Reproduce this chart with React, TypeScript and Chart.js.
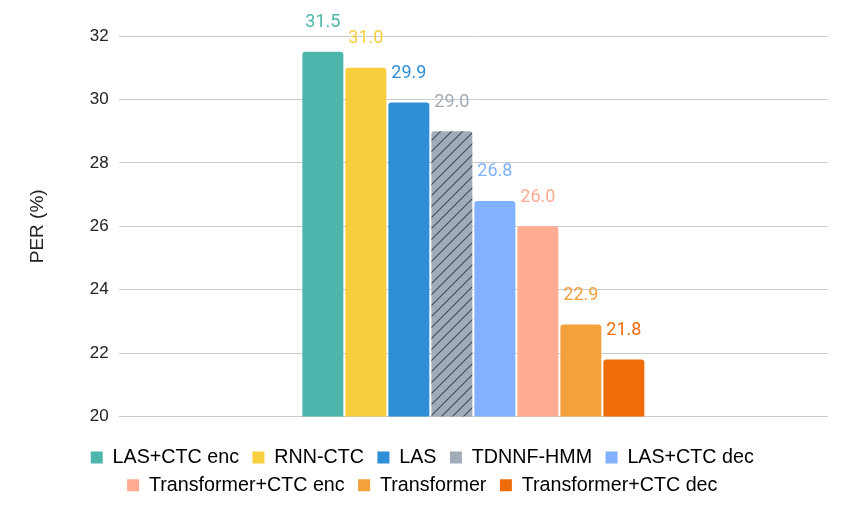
import React, { useEffect, useRef } from 'react';
import { Chart, registerables, Plugin } from 'chart.js';

Chart.register(...registerables);

// one bar per system
const systems = [
  'LAS+CTC enc',
  'RNN-CTC',
  'LAS',
  'TDNNF-HMM',
  'LAS+CTC dec',
  'Transformer+CTC enc',
  'Transformer',
  'Transformer+CTC dec',
];
const perValues = [31.5, 31.0, 29.9, 29.0, 26.8, 26.0, 22.9, 21.8];
const barColors = [
  '#4db6ac',
  '#f7cf3e',
  '#2e8fd6',
  '#a2acb9',
  '#82b1ff',
  '#ffab91',
  '#f2a13d',
  '#ef6c0a',
];
const hatchedSystem = 'TDNNF-HMM';
const yTicks = { min: 20, max: 32, step: 2 };

const makeHatch = (base: string): CanvasPattern | string => {
  const tile = document.createElement('canvas');
  tile.width = 11;
  tile.height = 11;
  const c = tile.getContext('2d');
  if (!c) return base;
  c.fillStyle = base;
  c.fillRect(0, 0, 11, 11);
  c.strokeStyle = '#3e4a5e';
  c.lineWidth = 1.1;
  c.beginPath();
  c.moveTo(-2, 13);
  c.lineTo(13, -2);
  c.moveTo(-8, 8);
  c.lineTo(8, -8);
  c.moveTo(3, 19);
  c.lineTo(19, 3);
  c.stroke();
  return c.createPattern(tile, 'repeat') || base;
};

// value labels above each bar, same colour as the bar
const valueLabels: Plugin<'bar'> = {
  id: 'valueLabels',
  afterDatasetsDraw(chart) {
    const { ctx } = chart;
    ctx.save();
    ctx.font = '18px Roboto';
    ctx.textAlign = 'center';
    ctx.textBaseline = 'middle';
    chart.data.datasets.forEach((ds, i) => {
      const bar = chart.getDatasetMeta(i).data[0];
      if (!bar) return;
      ctx.fillStyle = barColors[i];
      ctx.fillText((ds.data[0] as number).toFixed(1), bar.x, bar.y - 29);
    });
    ctx.restore();
  },
};

const App: React.FC = () => {
  const chartRef = useRef<HTMLCanvasElement>(null);

  useEffect(() => {
    document.body.style.margin = '0';
    const ctx = chartRef.current?.getContext('2d');
    if (!ctx) return;

    const myChart = new Chart(ctx, {
      type: 'bar',
      data: {
        labels: [''],
        datasets: systems.map((name, i) => ({
          label: name,
          data: [perValues[i]],
          backgroundColor:
            name === hatchedSystem ? makeHatch(barColors[i]) : barColors[i],
          borderWidth: 0,
          borderRadius: { topLeft: 3, topRight: 3 },
          borderSkipped: 'bottom',
          categoryPercentage: 0.485,
          barPercentage: 0.953,
        })),
      },
      options: {
        animation: false,
        responsive: true,
        maintainAspectRatio: false,
        layout: { padding: { top: 36, left: 22, right: 26, bottom: 17 } },
        plugins: {
          tooltip: { enabled: false },
          legend: {
            position: 'bottom',
            labels: {
              boxWidth: 12,
              boxHeight: 12,
              padding: 8,
              color: '#222',
              font: { family: 'Arial, "Liberation Sans"', size: 19.7 },
              useBorderRadius: true,
              borderRadius: 2,
              // trailing space widens the gap between items without
              // widening the gap between rows
              generateLabels: (chart) =>
                chart.data.datasets.map((ds, i) => ({
                  text: (ds.label as string) + ' ',
                  fillStyle: barColors[i],
                  strokeStyle: barColors[i],
                  lineWidth: 0,
                  hidden: false,
                  datasetIndex: i,
                })),
            },
          },
        },
        scales: {
          x: {
            grid: { display: false },
            border: { display: false },
            ticks: { display: false },
            afterFit: (scale) => {
              scale.height = 23;
            },
          },
          y: {
            min: yTicks.min,
            max: yTicks.max,
            ticks: {
              stepSize: yTicks.step,
              padding: 10,
              color: '#222',
              font: { family: 'Arial, "Liberation Sans"', size: 17 },
            },
            grid: { color: '#cccccc', drawTicks: false },
            border: { display: false },
            title: {
              display: true,
              text: 'PER (%)',
              color: '#222',
              font: { family: 'Arial, "Liberation Sans"', size: 19 },
              padding: { top: 4, bottom: 31 },
            },
          },
        },
      },
      plugins: [valueLabels],
    });

    return () => {
      myChart.destroy();
    };
  }, []);

  return (
    <div style={{ width: 854, height: 522, position: 'relative' }}>
      <canvas ref={chartRef} />
    </div>
  );
};

export default App;
